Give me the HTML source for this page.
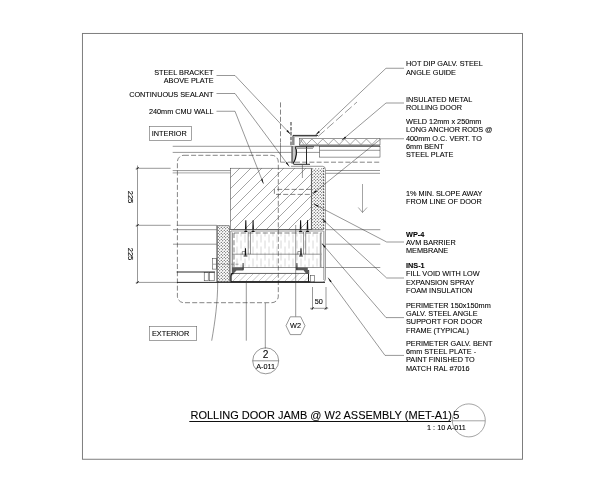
<!DOCTYPE html>
<html><head><meta charset="utf-8"><title>Rolling Door Jamb @ W2 Assembly</title>
<style>
html,body{margin:0;padding:0;background:#fff;}
body{width:600px;height:480px;overflow:hidden;}
svg{display:block;will-change:transform;}
text{font-family:"Liberation Sans",sans-serif;fill:#000;stroke:#000;stroke-width:0.08;}
.n{font-size:7.3px;}
.b{font-size:7.3px;font-weight:bold;}
.t{font-size:11px;}
.l{stroke:#303030;stroke-width:0.5;fill:none;}
.k{stroke:#111;stroke-width:0.9;fill:none;}
.g{stroke:#666;stroke-width:0.6;fill:none;}
.d{stroke:#333;stroke-width:0.6;fill:none;stroke-dasharray:5 2.2;}
</style></head><body>
<svg width="600" height="480" viewBox="0 0 600 480">
<defs>
<pattern id="stip" width="3" height="3" patternUnits="userSpaceOnUse">
<circle cx="0.75" cy="0.75" r="0.56" fill="#222"/><circle cx="2.25" cy="2.25" r="0.56" fill="#222"/>
</pattern>
<pattern id="ins" width="8" height="12" patternUnits="userSpaceOnUse">
<path d="M1,0.5V8.5M5,6.5V12M5,0V2.5" stroke="#d4d4d4" stroke-width="0.9" fill="none"/>
</pattern>
<clipPath id="cmu"><rect x="230.5" y="168.2" width="80.75" height="61.3"/></clipPath>
<clipPath id="plate"><rect x="231" y="273.5" width="77.5" height="8"/></clipPath>
</defs>
<rect x="0" y="0" width="600" height="480" fill="#fff"/>
<rect x="82.45" y="33.45" width="440.05" height="425.8" fill="none" stroke="#777" stroke-width="0.95"/>

<text class="n" x="213.5" y="74.5" text-anchor="end">STEEL BRACKET</text>
<text class="n" x="213.5" y="83" text-anchor="end">ABOVE PLATE</text>
<text class="n" x="213.5" y="96.75" text-anchor="end">CONTINUOUS SEALANT</text>
<text class="n" x="213.5" y="114" text-anchor="end">240mm CMU WALL</text>
<text class="n" x="406" y="66.3">HOT DIP GALV. STEEL</text>
<text class="n" x="406" y="74.8">ANGLE GUIDE</text>
<text class="n" x="406" y="101.5">INSULATED METAL</text>
<text class="n" x="406" y="110">ROLLING DOOR</text>
<text class="n" x="406" y="124">WELD 12mm x 250mm</text>
<text class="n" x="406" y="132.35">LONG ANCHOR RODS @</text>
<text class="n" x="406" y="140.7">400mm O.C. VERT. TO</text>
<text class="n" x="406" y="149.05">6mm BENT</text>
<text class="n" x="406" y="157.4">STEEL PLATE</text>
<text class="n" x="406" y="195.5">1% MIN. SLOPE AWAY</text>
<text class="n" x="406" y="204">FROM LINE OF DOOR</text>
<text class="b" x="406" y="236.6">WP-4</text>
<text class="n" x="406" y="244.5">AVM BARRIER</text>
<text class="n" x="406" y="252.75">MEMBRANE</text>
<text class="b" x="406" y="268">INS-1</text>
<text class="n" x="406" y="276.25">FILL VOID WITH LOW</text>
<text class="n" x="406" y="284.5">EXPANSION SPRAY</text>
<text class="n" x="406" y="292.75">FOAM INSULATION</text>
<text class="n" x="406" y="307.5">PERIMETER 150x150mm</text>
<text class="n" x="406" y="315.75">GALV. STEEL ANGLE</text>
<text class="n" x="406" y="324.25">SUPPORT FOR DOOR</text>
<text class="n" x="406" y="332.5">FRAME (TYPICAL)</text>
<text class="n" x="406" y="345.5">PERIMETER GALV. BENT</text>
<text class="n" x="406" y="354">6mm STEEL PLATE -</text>
<text class="n" x="406" y="362.4">PAINT FINISHED TO</text>
<text class="n" x="406" y="370.7">MATCH RAL #7016</text>
<rect class="g" x="149.3" y="126.5" width="42.2" height="13.9"/><text class="n" x="151.8" y="136">INTERIOR</text>
<rect class="g" x="149.3" y="326.5" width="47.4" height="14.1"/><text class="n" x="152" y="336.2">EXTERIOR</text>
<path class="l" d="M216.5,75.5H235L290.5,134.3"/><polygon points="290.50,134.30 286.45,131.25 287.69,130.08" fill="#111"/>
<path class="l" d="M216.5,93.5H235L289.3,166.5"/><polygon points="289.30,166.50 285.63,163.00 287.00,161.98" fill="#111"/>
<path class="l" d="M216.5,111.25H235L263.5,183.75"/><polygon points="263.50,183.75 260.88,179.41 262.46,178.79" fill="#111"/>
<path class="l" d="M404,68.25H386L315.6,135"/><polygon points="315.60,135.00 318.64,130.94 319.81,132.18" fill="#111"/>
<path class="l" d="M404,103H386L341.8,140.3"/><polygon points="341.80,140.30 345.07,136.43 346.17,137.72" fill="#111"/>
<path class="l" d="M404,138.75H381L312.5,194"/><polygon points="312.50,194.00 315.86,190.20 316.93,191.52" fill="#111"/>
<path class="l" d="M404,242H386.7L313.75,204"/><polygon points="313.75,204.00 318.58,205.56 317.79,207.06" fill="#111"/>
<path class="l" d="M404,278H386.7L321.9,218.75"/><polygon points="321.90,218.75 326.16,221.50 325.02,222.75" fill="#111"/>
<path class="l" d="M404,317.6H386L321.7,243.3"/><polygon points="321.70,243.30 325.61,246.52 324.33,247.64" fill="#111"/>
<path class="l" d="M404,355.4H385L328,277.7"/><polygon points="328.00,277.70 331.64,281.23 330.27,282.23" fill="#111"/>
<path class="l" d="M318,136.5L357,102" stroke-dasharray="9 3"/>
<path class="l" d="M137.5,165.5V283.5M135.8,168.3H170.6M135.8,225.3H170.6M135.8,282.4H177"/>
<path class="k" d="M136.3,169.5L138.7,167.10000000000002"/>
<path class="k" d="M136.3,226.5L138.7,224.10000000000002"/>
<path class="k" d="M136.3,283.59999999999997L138.7,281.2"/>
<text class="n" transform="translate(128.2,197) rotate(90)" text-anchor="middle" style="font-size:7.6px">225</text>
<text class="n" transform="translate(128.2,254) rotate(90)" text-anchor="middle" style="font-size:7.6px">225</text>
<path class="l" d="M312.5,287V310M326,287V310M310,308.3H328.2"/>
<path class="k" d="M311.3,309.5L313.7,307.1"/>
<path class="k" d="M324.8,309.5L327.2,307.1"/>
<text class="n" x="318.8" y="303.8" text-anchor="middle">50</text>
<rect class="d" x="177.4" y="155.3" width="100.9" height="147.4" rx="6.5" ry="6.5"/>
<path class="l" d="M172.7,146.3H293M172.7,152.4H293"/>
<path class="l" d="M172.7,170.6H230.5"/><path class="g" d="M172.7,172.9H230.5" stroke="#888"/>
<path class="l" d="M176.7,225.3H216.7M173,229.7H216.7M173,244.2H216.7"/>
<path class="k" d="M176.7,272H215M177,282.4H325"/>
<path class="l" d="M325.6,229.7H380.3M325.6,244.2H380.3M325.6,267.5H380.3"/>
<path class="l" d="M325.6,170.5H380M325.6,173.3H380"/>
<path class="d" d="M280.5,102.4V142.5" stroke-dasharray="9 1.7"/><path class="l" d="M280.5,143V162.2H285"/><path class="d" d="M287.8,162.2H380" stroke-dasharray="19.1 2.7"/>
<path d="M291,122V146" stroke="#6a6a6a" stroke-width="1.4" stroke-dasharray="3.6 1.3" fill="none"/>
<rect x="230.5" y="168.2" width="80.75" height="61.3" class="l"/>
<path stroke="#4a4a4a" stroke-width="0.5" fill="none" clip-path="url(#cmu)" d="M146.00,240L226.00,160M157.00,240L237.00,160M168.00,240L248.00,160M179.00,240L259.00,160M190.00,240L270.00,160M201.00,240L281.00,160M212.00,240L292.00,160M223.00,240L303.00,160M234.00,240L314.00,160M245.00,240L325.00,160M256.00,240L336.00,160M267.00,240L347.00,160M278.00,240L358.00,160M289.00,240L369.00,160M300.00,240L380.00,160M311.00,240L391.00,160"/>
<path d="M311.4,168.2H324V230H311.4Z" fill="url(#stip)" stroke="none"/><path class="l" d="M311.4,168.2V230"/><path d="M323.7,168V230" stroke="#222" stroke-width="0.9" stroke-dasharray="1 2" fill="none"/>
<path class="l" d="M291,166.3H322.5Q325.4,166.3 325.4,169.5V279Q325.4,282 322.5,282H313"/>
<path class="l" d="M323.8,231V280"/>
<rect x="217.5" y="225.8" width="11.9" height="56" fill="url(#stip)" stroke="#222" stroke-width="0.5"/>
<path class="l" d="M216.6,225.3V282.4"/>
<rect class="l" x="212.5" y="258.3" width="4.1" height="10.8"/>
<rect class="l" x="204.2" y="272.6" width="4" height="8.2"/><rect class="l" x="209.4" y="272.6" width="4.8" height="8.2"/>
<rect x="233.5" y="232.5" width="88.5" height="35" fill="url(#ins)" stroke="none"/>
<path class="l" d="M229.4,229.5H324M230.8,231H323.5M230.8,231V274M232.5,232.5V270"/>
<path class="d" d="M234,233V268M234,233H322" stroke-dasharray="3 1.5" stroke-width="0.5"/>
<path class="l" d="M248.2,232V254.2M250.5,232V254.2M303.5,232V254.2M305.7,232V254.2"/>
<path class="l" d="M232.5,254.2H321.5M232.5,267.5H324"/>
<path d="M320.6,233V267.3" stroke="#9a9a9a" stroke-width="1.6" fill="none"/>
<rect class="g" x="231" y="273.4" width="77.5" height="8.2" stroke="none"/>
<path stroke="#999" stroke-width="0.55" fill="none" clip-path="url(#plate)" d="M204.50,290L229.50,265M211.00,290L236.00,265M217.50,290L242.50,265M224.00,290L249.00,265M230.50,290L255.50,265M237.00,290L262.00,265M243.50,290L268.50,265M250.00,290L275.00,265M256.50,290L281.50,265M263.00,290L288.00,265M269.50,290L294.50,265M276.00,290L301.00,265M282.50,290L307.50,265M289.00,290L314.00,265M295.50,290L320.50,265M302.00,290L327.00,265M308.50,290L333.50,265"/>
<path class="l" d="M233,273.4H308.5"/>
<path d="M233.5,273.4Q230.9,273.4 230.9,276V281.7H310" stroke="#111" stroke-width="1.15" fill="none"/>
<path class="k" d="M308.5,270V281.7"/>
<rect class="l" x="310.7" y="275.6" width="3.7" height="6.2"/>
<path d="M232,267.6H243.4V270.6H236.5L234,273H232Z" fill="#5a5a5a"/>
<path d="M296,267.6H307.8V270.3H309.2V274H306.5L303.5,270.3H296Z" fill="#5a5a5a"/>
<polygon points="245.3,220.2 246.3,220.2 246.60000000000002,229.6 245.0,229.6" fill="#111"/>
<polygon points="244.0,232.0 247.60000000000002,232.0 246.60000000000002,230.39999999999998 245.0,230.39999999999998" fill="#111"/>
<polygon points="252.6,220.2 253.6,220.2 253.9,229.6 252.29999999999998,229.6" fill="#111"/>
<polygon points="251.29999999999998,232.0 254.9,232.0 253.9,230.39999999999998 252.29999999999998,230.39999999999998" fill="#111"/>
<polygon points="300.1,220.2 301.1,220.2 301.40000000000003,229.6 299.8,229.6" fill="#111"/>
<polygon points="298.8,232.0 302.40000000000003,232.0 301.40000000000003,230.39999999999998 299.8,230.39999999999998" fill="#111"/>
<polygon points="307.0,220.2 308.0,220.2 308.3,229.6 306.7,229.6" fill="#111"/>
<polygon points="305.7,232.0 309.3,232.0 308.3,230.39999999999998 306.7,230.39999999999998" fill="#111"/>
<polygon points="245.0,248.3 246.0,248.3 246.3,255.4 244.7,255.4" fill="#111"/>
<polygon points="300.5,248.3 301.5,248.3 301.8,255.4 300.2,255.4" fill="#111"/>
<path class="k" d="M243.6,256H247.4M299.1,256H302.9"/>
<polygon points="242.6,263 243.6,263 243.9,269.8 242.29999999999998,269.8" fill="#444"/>
<polygon points="296.4,263 297.4,263 297.7,269.8 296.09999999999997,269.8" fill="#444"/>
<path class="l" d="M242.3,254.4V251.5H245"/><path class="l" d="M297.8,254.4V251.5H300.5"/>
<path class="d" d="M311,189.4H274.4V194.4H311" stroke-dasharray="4 2"/>
<path class="l" d="M302.4,165V178"/>
<path class="k" d="M293,145V135.4H318"/>
<path class="g" d="M294.2,145V136.6H317"/>
<rect class="l" x="299.4" y="138.5" width="80.6" height="6.6"/>
<polyline class="g" points="299.6,144.5 302.0,139 306.5,144.5 311.9,139 317.4,144.5 322.8,139 328.3,144.5 333.7,139 339.2,144.5 344.6,139 350.1,144.5 355.5,139 361.0,144.5 366.4,139 371.9,144.5 377.3,139"/>
<path class="g" d="M299.6,139L304,144.5"/>
<path class="l" d="M299.4,145.1H380"/>
<path class="l" d="M293,146.3H380"/>
<rect class="l" x="319.6" y="146.7" width="60.4" height="10.4"/><path class="l" d="M319.6,150.3H380M293,152.4H319.6"/>
<path class="k" d="M295.2,146.8H314M306.5,146.6V164.3M293.5,164.3H310"/>
<path class="g" d="M297,148.5H313"/>
<path d="M292.5,147H295.4C297.1,150 297,157.5 293.2,163.6H292.5Z" fill="#c8c8c8" stroke="none"/><path d="M295.4,147.2C297.1,150 297,157.5 293.2,163.6" stroke="#111" stroke-width="1.2" fill="none"/><path d="M292.1,146V163.5" stroke="#707070" stroke-width="1.7" fill="none"/>
<path class="l" d="M246.3,283V340.7M265.3,303V348.7M295.7,225V316.5"/>
<path class="l" d="M217.7,282.4C217.7,302 215,322 211.7,340.7"/>
<path class="g" d="M213,264.2H239.5" stroke-dasharray="3 1.5"/>
<polygon class="l" points="286.0,325.7 290.3,316.8 300.7,316.8 305.0,325.7 300.7,334.59999999999997 290.3,334.59999999999997"/>
<text class="n" x="295.5" y="328.3" text-anchor="middle">W2</text>
<circle class="l" cx="265.7" cy="360.8" r="13"/><path class="l" d="M252.7,360.8H278.7"/>
<text x="265.6" y="357.6" text-anchor="middle" style="font-size:10.2px">2</text>
<text class="n" x="265.6" y="369.3" text-anchor="middle">A-011</text>
<path class="g" d="M362.5,184V212.5M358.3,207.5L362.5,212.5L367,207.5"/>
<text class="t" x="190.5" y="419.3">ROLLING DOOR JAMB @ W2 ASSEMBLY (MET-A1)</text><text x="453" y="419.3" style="font-size:11.6px">5</text>
<path d="M189.3,421.5H451" stroke="#111" stroke-width="1.1" fill="none"/>
<path class="g" d="M451,420.8H485.2"/>
<circle class="g" cx="468.8" cy="420.4" r="16.5"/>
<text class="n" x="427" y="429.7">1 : 10 A-011</text>
</svg></body></html>
